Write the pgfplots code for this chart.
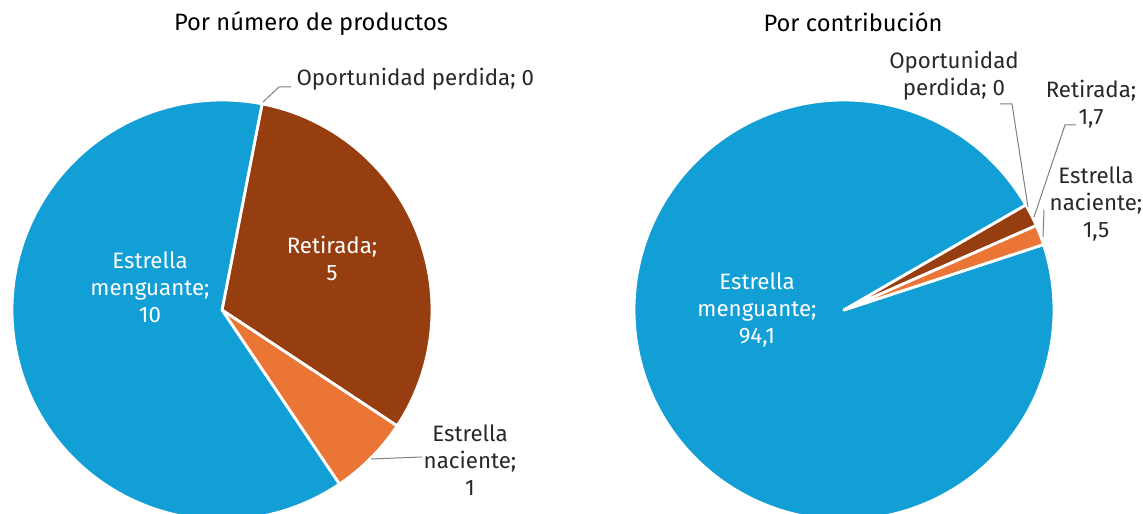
\documentclass[border=0pt]{standalone}
\usepackage{pgfplots}
\pgfplotsset{compat=1.18}
\usepackage{pgfplotstable}
\usepackage{fontspec}
\setmainfont{Fira Sans}
\definecolor{cBlue}{RGB}{17,159,214}
\definecolor{cBrown}{RGB}{150,62,16}
\definecolor{cOrange}{RGB}{234,117,52}
\definecolor{cLine}{RGB}{128,128,128}
\definecolor{cText}{RGB}{40,40,40}

\pgfplotstableread{
name value
Oportunidad 0
Retirada 5
Naciente 1
Menguante 10
}\tabA
\pgfplotstableread{
name value
Oportunidad 0
Retirada 1.7
Naciente 1.5
Menguante 94.1
}\tabB

\pgfplotstablegetelem{0}{value}\of\tabA \let\aO\pgfplotsretval
\pgfplotstablegetelem{1}{value}\of\tabA \let\aR\pgfplotsretval
\pgfplotstablegetelem{2}{value}\of\tabA \let\aN\pgfplotsretval
\pgfplotstablegetelem{3}{value}\of\tabA \let\aM\pgfplotsretval
\pgfmathsetmacro\aT{\aO+\aR+\aN+\aM}
\pgfmathsetmacro\aS{79}
\pgfmathsetmacro\aOe{\aS-(\aO/\aT)*360}
\pgfmathsetmacro\aRe{\aOe-(\aR/\aT)*360}
\pgfmathsetmacro\aNe{\aRe-(\aN/\aT)*360}
\pgfmathsetmacro\aMe{\aNe-(\aM/\aT)*360}
\pgfplotstablegetelem{0}{value}\of\tabB \let\bO\pgfplotsretval
\pgfplotstablegetelem{1}{value}\of\tabB \let\bR\pgfplotsretval
\pgfplotstablegetelem{2}{value}\of\tabB \let\bN\pgfplotsretval
\pgfplotstablegetelem{3}{value}\of\tabB \let\bM\pgfplotsretval
\pgfmathsetmacro\bT{\bO+\bR+\bN+\bM}
\pgfmathsetmacro\bS{30}
\pgfmathsetmacro\bOe{\bS-(\bO/\bT)*360}
\pgfmathsetmacro\bRe{\bOe-(\bR/\bT)*360}
\pgfmathsetmacro\bNe{\bRe-(\bN/\bT)*360}
\pgfmathsetmacro\bMe{\bNe-(\bM/\bT)*360}

\newcommand\lab{\fontsize{22.3bp}{27bp}\selectfont}
\newcommand\ttl{\fontsize{23.7bp}{28bp}\selectfont}

\pgfplotsset{pieax/.style={anchor=origin, x=210bp, y=210bp,
  xmin=-1, xmax=1, ymin=-1, ymax=1, hide axis, clip=false},
  slice/.style={draw=white, line width=2.8bp, line join=round, variable=\t}}

\begin{document}
\begin{tikzpicture}
\useasboundingbox (0,0) rectangle (1143bp,514bp);
\clip (0,0) rectangle (1143bp,514bp);

\begin{axis}[pieax, at={(222bp,204bp)}]
\addplot[slice, fill=cBrown, domain=\aRe:\aOe, samples=80] ({cos(\t)},{sin(\t)}) -- (0,0) -- cycle;
\addplot[slice, fill=cOrange, domain=\aNe:\aRe, samples=30] ({cos(\t)},{sin(\t)}) -- (0,0) -- cycle;
\addplot[slice, fill=cBlue, domain=\aMe:\aNe, samples=150] ({cos(\t)},{sin(\t)}) -- (0,0) -- cycle;
\end{axis}

\begin{axis}[pieax, at={(844bp,204bp)}]
\addplot[slice, fill=cBlue, domain=\bMe:\bNe, samples=200] ({cos(\t)},{sin(\t)}) -- (0,0) -- cycle;
\addplot[slice, fill=cBrown, domain=\bRe:\bOe, samples=10] ({cos(\t)},{sin(\t)}) -- (0,0) -- cycle;
\addplot[slice, fill=cOrange, domain=\bNe:\bRe, samples=10] ({cos(\t)},{sin(\t)}) -- (0,0) -- cycle;
\end{axis}

\begin{scope}[x=1bp, y=-1bp, yshift=514bp]
\node[font=\ttl, text=black] at (311,24) {Por número de productos};
\node[font=\ttl, text=black] at (853,22) {Por contribución};
\node[font=\lab, text=white, align=center] at (150,287) {Estrella\\menguante;\\10};
\node[font=\lab, text=white, align=center] at (332,258) {Retirada;\\5};
\draw[cLine, line width=1bp] (263,102) -- (279,87) -- (291,87);
\node[font=\lab, text=cText, anchor=west] at (293,79) {Oportunidad perdida; 0};
\draw[cLine, line width=1bp] (371,459) -- (422,457);
\node[font=\lab, text=cText, align=center] at (470,460) {Estrella\\naciente;\\1};
\node[font=\lab, text=white, align=center] at (757,310) {Estrella\\menguante;\\94,1};
\draw[cLine, line width=1bp] (1000,104) -- (1012,104) -- (1028,207);
\node[font=\lab, text=cText, align=center] at (954,76) {Oportunidad\\perdida; 0};
\draw[cLine, line width=1bp] (1076,125) -- (1065,125) -- (1034,217);
\node[font=\lab, text=cText, align=center] at (1091,104) {Retirada;\\1,7};
\draw[cLine, line width=1bp] (1044,210) -- (1043,237);
\node[font=\lab, text=cText, align=center] at (1096,204) {Estrella\\naciente;\\1,5};
\end{scope}
\end{tikzpicture}
\end{document}
